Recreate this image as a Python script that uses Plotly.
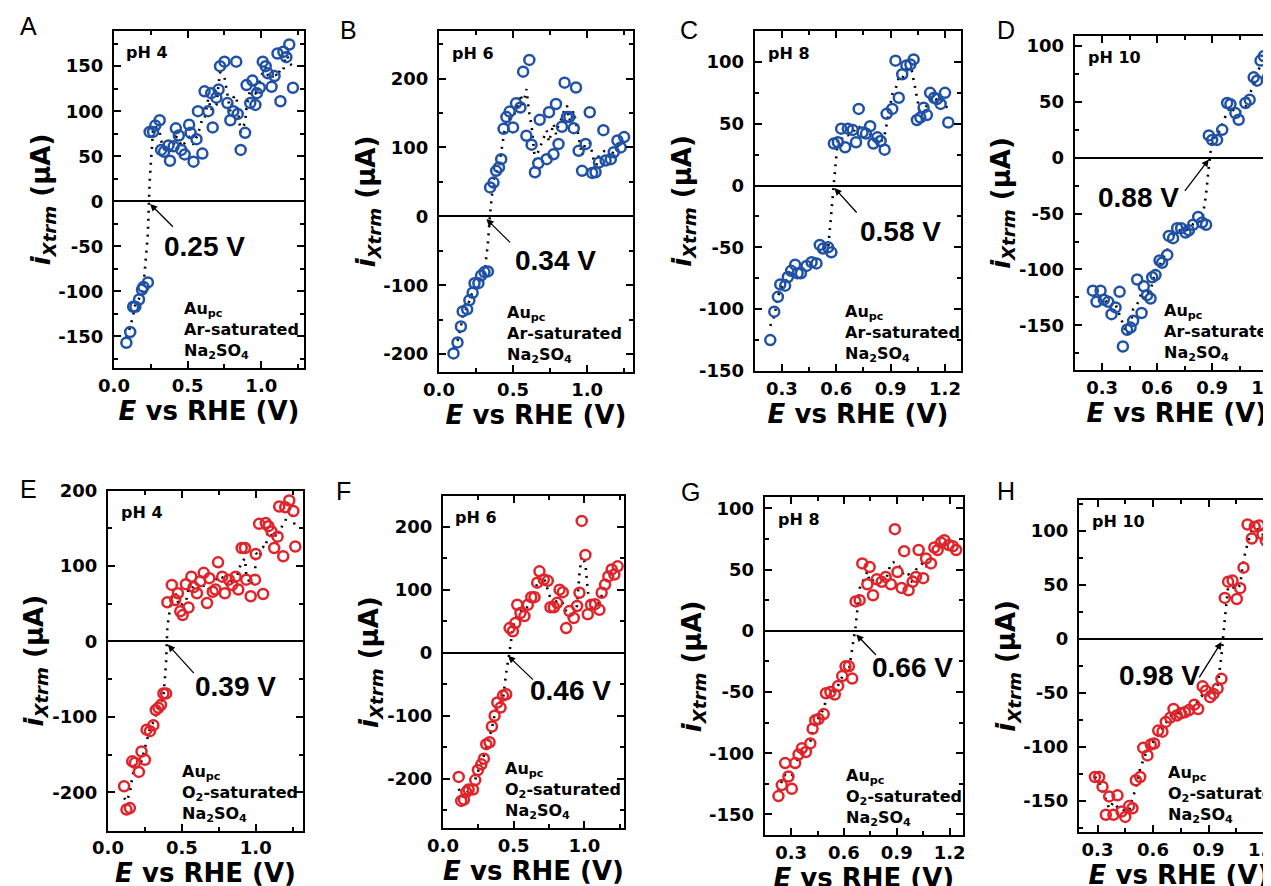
import numpy as np
import plotly.graph_objects as go

W, H = 1271, 886

# ---------------- data (E vs RHE in V, i_Xtrm in uA) ----------------
e_A = [0.084, 0.11, 0.13, 0.145, 0.17, 0.19, 0.20, 0.23,
       0.242, 0.265, 0.28, 0.31, 0.32, 0.34, 0.37, 0.38, 0.405, 0.42, 0.44, 0.457, 0.48,
       0.51, 0.52, 0.54, 0.56, 0.57, 0.60, 0.615, 0.64, 0.66, 0.67, 0.695, 0.71, 0.72,
       0.75, 0.77, 0.79, 0.81, 0.83, 0.84, 0.86, 0.89, 0.90, 0.925, 0.94, 0.96, 0.97,
       0.99, 1.01, 1.03, 1.045, 1.07, 1.09, 1.11, 1.13, 1.15, 1.17, 1.19, 1.215]
i_A = [-157, -145, -117, -117, -109, -98, -95, -90,
       77, 77, 84, 90, 57, 55, 62, 45, 61, 81, 73, 57, 52,
       85, 76, 44, 69, 100, 53, 122, 100, 120, 82, 115, 124, 150,
       155, 109, 90, 100, 155, 97, 57, 76, 129, 109, 134, 107, 120,
       126, 155, 150, 142, 127, 139, 164, 111, 166, 160, 174, 126]

e_B = [0.098, 0.125, 0.148, 0.16, 0.19, 0.205, 0.227, 0.24, 0.266, 0.284, 0.307, 0.33,
       0.345, 0.368, 0.386, 0.405, 0.42, 0.436, 0.455, 0.477, 0.50, 0.52, 0.55, 0.568,
       0.59, 0.61, 0.625, 0.648, 0.67, 0.68, 0.727, 0.743, 0.773, 0.79, 0.807, 0.83,
       0.848, 0.864, 0.88, 0.91, 0.925, 0.943, 0.966, 0.99, 1.018, 1.034, 1.057, 1.08,
       1.11, 1.125, 1.16, 1.18, 1.205, 1.227, 1.25]
i_B = [-199, -183, -160, -138, -135, -122, -111, -97, -97, -86, -81, -80,
       42, 49, 66, 71, 83, 127, 144, 152, 129, 164, 158, 210,
       117, 227, 104, 64, 77, 140, 83, 151, 90, 163, 105, 130,
       194, 144, 144, 128, 187, 95, 66, 105, 151, 63, 64, 78,
       125, 81, 83, 93, 110, 100, 115]

e_C = [0.236, 0.258, 0.278, 0.291, 0.318, 0.333, 0.351, 0.373, 0.387, 0.405, 0.436,
       0.464, 0.491, 0.509, 0.527, 0.555, 0.573,
       0.587, 0.609, 0.627, 0.649, 0.664, 0.691, 0.709, 0.724, 0.745, 0.764, 0.787,
       0.805, 0.827, 0.845, 0.867, 0.878, 0.909, 0.927, 0.945, 0.964, 0.987, 1.009,
       1.027, 1.045, 1.064, 1.082, 1.10, 1.118, 1.14, 1.155, 1.176, 1.20, 1.218]
i_C = [-125, -102, -90, -80, -81, -74, -69, -64, -71, -71, -65,
       -62, -63, -48, -51, -50, -54,
       34, 35, 46, 31, 46, 45, 35, 62, 43, 42, 48,
       34, 39, 36, 29, 58, 62, 101, 71, 90, 97, 98,
       102, 53, 55, 63, 57, 75, 71, 70, 66, 75, 51]

e_D = [0.249, 0.269, 0.291, 0.309, 0.333, 0.351, 0.373, 0.395, 0.413, 0.436, 0.455,
       0.469, 0.491, 0.515, 0.527, 0.545, 0.564, 0.573, 0.591, 0.613, 0.627, 0.655,
       0.664, 0.687, 0.709, 0.731, 0.755, 0.773, 0.796, 0.824, 0.845, 0.867,
       0.882, 0.90, 0.927, 0.955, 0.982, 1.0, 1.027, 1.045, 1.082, 1.105, 1.127,
       1.145, 1.164, 1.182, 1.205, 1.218, 1.236, 1.262]
i_D = [-119, -129, -119, -127, -129, -140, -134, -120, -169, -154, -152,
       -146, -109, -139, -115, -123, -126, -107, -105, -92, -94, -87,
       -70, -72, -63, -63, -67, -65, -60, -53, -58, -60,
       20, 16, 16, 25, 49, 48, 40, 34, 49, 52, 72,
       69, 87, 91, 72, 66, 73, 70]

e_E = [0.109, 0.125, 0.148, 0.164, 0.182, 0.209, 0.227, 0.25, 0.261, 0.284, 0.307,
       0.323, 0.341, 0.359, 0.375, 0.393,
       0.402, 0.432, 0.455, 0.473, 0.489, 0.505, 0.527, 0.545, 0.564, 0.58, 0.602,
       0.625, 0.648, 0.67, 0.686, 0.709, 0.727, 0.745, 0.773, 0.791, 0.818, 0.841,
       0.864, 0.882, 0.905, 0.927, 0.936, 0.966, 0.995, 1.0, 1.023, 1.05, 1.068,
       1.086, 1.107, 1.125, 1.148, 1.159, 1.186, 1.20, 1.227, 1.255, 1.268]
i_E = [-192, -223, -221, -159, -161, -173, -146, -157, -117, -119, -111,
       -91, -88, -84, -69, -69,
       52, 75, 55, 64, 40, 35, 76, 45, 86, 72, 64,
       80, 91, 51, 84, 66, 69, 105, 86, 64, 82, 75,
       86, 69, 124, 124, 82, 60, 82, 116, 156, 63, 157,
       153, 146, 124, 139, 179, 113, 178, 187, 173, 126]

e_F = [0.111, 0.129, 0.148, 0.165, 0.181, 0.212, 0.228, 0.247, 0.271, 0.289, 0.306,
       0.329, 0.346, 0.365, 0.384, 0.407, 0.424, 0.447,
       0.471, 0.494, 0.511, 0.525, 0.548, 0.576, 0.60, 0.624, 0.647, 0.666, 0.682,
       0.713, 0.741, 0.76, 0.784, 0.807, 0.824, 0.847, 0.871, 0.894, 0.925, 0.948,
       0.965, 0.981, 1.007, 1.024, 1.047, 1.075, 1.106, 1.122, 1.146, 1.169, 1.193,
       1.212, 1.235]
i_F = [-197, -235, -233, -221, -217, -217, -202, -186, -177, -168, -145,
       -142, -117, -100, -79, -87, -68, -66,
       39, 34, 47, 76, 63, 58, 76, 88, 88, 111, 129,
       116, 114, 72, 72, 79, 100, 96, 39, 66, 55, 74,
       95, 209, 155, 61, 76, 77, 68, 95, 108, 121, 132,
       124, 137]

e_G = [0.228, 0.247, 0.266, 0.285, 0.304, 0.323, 0.342, 0.361, 0.384, 0.409, 0.422,
       0.437, 0.456, 0.485, 0.498, 0.523, 0.548, 0.567, 0.59, 0.609, 0.628, 0.647,
       0.666, 0.689, 0.704, 0.733, 0.746, 0.765, 0.786, 0.814, 0.837, 0.866, 0.889,
       0.904, 0.927, 0.942, 0.967, 0.99, 1.009, 1.024, 1.05, 1.066, 1.094, 1.113,
       1.132, 1.151, 1.17, 1.195, 1.218, 1.237]
i_G = [-135, -126, -108, -119, -129, -108, -101, -96, -99, -92, -80,
       -73, -72, -68, -51, -50, -52, -45, -37, -29, -29, -39,
       24, 25, 55, 38, 52, 29, 42, 40, 44, 38, 83,
       48, 35, 65, 33, 40, 44, 66, 43, 59, 55, 68,
       66, 72, 74, 70, 69, 66]

e_H = [0.286, 0.309, 0.327, 0.345, 0.363, 0.386, 0.408, 0.43, 0.45, 0.471, 0.489,
       0.507, 0.531, 0.547, 0.57, 0.588, 0.606, 0.628, 0.651, 0.669, 0.693, 0.711,
       0.729, 0.75, 0.772, 0.795, 0.823, 0.844, 0.868, 0.886, 0.909, 0.927, 0.949,
       0.97,
       0.988, 1.006, 1.03, 1.053, 1.071, 1.089, 1.111, 1.134, 1.15, 1.173, 1.192,
       1.21, 1.228, 1.246, 1.268]
i_H = [-128, -128, -137, -163, -146, -163, -145, -160, -165, -155, -157,
       -131, -128, -101, -108, -98, -97, -85, -86, -77, -73, -65,
       -71, -69, -68, -66, -61, -65, -44, -48, -54, -51, -46,
       -37,
       38, 53, 54, 37, 47, 66, 106, 93, 104, 105, 97,
       91, 66, 105, 100]

letters = ["A", "B", "C", "D", "E", "F", "G", "H"]
ph_labels = ["pH 4", "pH 6", "pH 8", "pH 10", "pH 4", "pH 6", "pH 8", "pH 10"]
onset_labels = ["0.25 V", "0.34 V", "0.58 V", "0.88 V", "0.39 V", "0.46 V", "0.66 V", "0.98 V"]
gas_labels = ["Ar-saturated"] * 4 + ["O<sub>2</sub>-saturated"] * 4
E_data = [e_A, e_B, e_C, e_D, e_E, e_F, e_G, e_H]
I_data = [i_A, i_B, i_C, i_D, i_E, i_F, i_G, i_H]

BLUE = "#1f52a6"
RED = "#e0242a"
colors = [BLUE] * 4 + [RED] * 4

# ---------------- layout config (pixel frames etc.) ----------------
cfg = [
    dict(fr=(106, 296, 23, 360), xr=[0, 1.29], yr=[-185, 189], xd=0.5, x0=0, xm=0.25, yd=50, ym=25,
         tip=(0.245, -3), tail=(0.41, -30), lab=(0.615, -50), blk=0.36, let=(20, 18)),
    dict(fr=(431, 625, 23, 364), xr=[0, 1.31], yr=[-226, 269], xd=0.5, x0=0, xm=0.25, yd=100, ym=50,
         tip=(0.32, -4), tail=(0.49, -40), lab=(0.785, -64), blk=0.34, let=(340, 22)),
    dict(fr=(746.7, 953.3, 23, 363), xr=[0.15, 1.29], yr=[-150, 125], xd=0.3, x0=0.3, xm=0.15, yd=50, ym=25,
         tip=(0.59, -2), tail=(0.72, -23), lab=(0.955, -37), blk=0.425, let=(681, 22)),
    dict(fr=(1066.7, 1271, 28, 362), xr=[0.15, 1.265], yr=[-190, 109], xd=0.3, x0=0.3, xm=0.15, yd=50, ym=25,
         tip=(0.882, -1.5), tail=(0.745, -31), lab=(0.5, -36), blk=0.425, let=(998, 22)),
    dict(fr=(100, 295, 482.7, 822.7), xr=[0, 1.32], yr=[-251, 200], xd=0.5, x0=0, xm=0.25, yd=100, ym=50,
         tip=(0.405, -4), tail=(0.59, -44), lab=(0.865, -60), blk=0.37, let=(20, 481)),
    dict(fr=(435, 616, 488.3, 820), xr=[0, 1.28], yr=[-278, 248], xd=0.5, x0=0, xm=0.25, yd=100, ym=50,
         tip=(0.46, -5), tail=(0.647, -45), lab=(0.905, -60), blk=0.33, let=(335, 483)),
    dict(fr=(756.7, 955, 489.3, 827.3), xr=[0.15, 1.276], yr=[-167, 109], xd=0.3, x0=0.3, xm=0.15, yd=50, ym=25,
         tip=(0.67, -3), tail=(0.79, -21), lab=(0.99, -30), blk=0.40, let=(682, 484)),
    dict(fr=(1071, 1271, 491.7, 824), xr=[0.2, 1.281], yr=[-179, 129], xd=0.3, x0=0.3, xm=0.15, yd=50, ym=25,
         tip=(0.97, -3), tail=(0.845, -37), lab=(0.633, -34), blk=0.435, let=(998, 483)),
]

TICKFONT = dict(family="DejaVu Sans", size=18, color="black", weight="bold")
TITLEFONT = dict(family="DejaVu Sans", size=26, color="black")


def smooth(x, y, w=3):
    order = np.argsort(x)
    xs = np.asarray(x, float)[order]
    ys = np.asarray(y, float)[order]
    k = w // 2
    ym = np.array([ys[max(0, j - k):j + k + 1].mean() for j in range(len(ys))])
    return xs, ym


fig = go.Figure()
layout = dict(width=W, height=H, margin=dict(l=0, r=0, t=0, b=0),
              paper_bgcolor="white", plot_bgcolor="white", showlegend=False)
annotations = []

for n in range(8):
    c = cfg[n]
    sfx = "" if n == 0 else str(n + 1)
    xa, ya = "x" + sfx, "y" + sfx
    x0p, x1p, ytp, ybp = c["fr"]

    xs, ys = smooth(E_data[n], I_data[n])
    fig.add_trace(go.Scatter(x=xs, y=ys, mode="lines", xaxis=xa, yaxis=ya,
                             line=dict(color="black", width=2.6, dash="2px,6px"),
                             hoverinfo="skip"))
    fig.add_trace(go.Scatter(x=E_data[n], y=I_data[n], mode="markers", xaxis=xa, yaxis=ya,
                             marker=dict(symbol="circle-open", size=10, color=colors[n],
                                         line=dict(width=2.5, color=colors[n]))))

    yv = np.arange(np.ceil(c["yr"][0] / c["yd"]) * c["yd"], c["yr"][1] + 1e-9, c["yd"])
    yt = [str(int(v)) if v >= 0 else "-" + str(int(-v)) for v in yv]

    layout["xaxis" + sfx] = dict(
        domain=[x0p / W, x1p / W], range=c["xr"], anchor=ya,
        showline=True, linewidth=2, linecolor="black", mirror="ticks",
        ticks="inside", ticklen=7, tickwidth=2, tickcolor="black",
        tick0=c["x0"], dtick=c["xd"], tickformat=".1f",
        minor=dict(ticks="inside", ticklen=4, tickwidth=2, tickcolor="black",
                   tick0=0, dtick=c["xm"]),
        showgrid=False, zeroline=False, tickfont=TICKFONT, ticklabelstandoff=0,
        ticklabeloverflow="allow",
        title=dict(text="<b><i>E</i> vs RHE (V)</b>", font=TITLEFONT, standoff=0),
        automargin=False, fixedrange=True)
    layout["yaxis" + sfx] = dict(
        domain=[1 - ybp / H, 1 - ytp / H], range=c["yr"], anchor=xa,
        showline=True, linewidth=2, linecolor="black", mirror="ticks",
        ticks="inside", ticklen=7, tickwidth=2, tickcolor="black",
        tickmode="array", tickvals=list(yv), ticktext=yt,
        minor=dict(ticks="inside", ticklen=4, tickwidth=2, tickcolor="black",
                   tick0=0, dtick=c["ym"]),
        showgrid=False, zeroline=True, zerolinecolor="black", zerolinewidth=1.6,
        tickfont=TICKFONT, ticklabelstandoff=5, ticklabeloverflow="allow",
        title=dict(text="<b><i>i</i><sub><i>Xtrm</i></sub> (μA)</b>", font=TITLEFONT, standoff=0),
        automargin=False, fixedrange=True)

    annotations.append(dict(x=c["let"][0] / W, y=1 - c["let"][1] / H, xref="paper", yref="paper",
                            text=letters[n], showarrow=False, xanchor="center", yanchor="middle",
                            font=dict(family="Liberation Sans, Arial", size=25, color="black")))
    annotations.append(dict(x=0.055, y=0.935, xref=xa + " domain", yref=ya + " domain",
                            text="<b>" + ph_labels[n] + "</b>", showarrow=False,
                            xanchor="left", yanchor="middle",
                            font=dict(family="DejaVu Sans", size=16, color="black")))
    annotations.append(dict(x=c["blk"], y=0.012, xref=xa + " domain", yref=ya + " domain",
                            text="<b>Au<sub>pc</sub><br>" + gas_labels[n] +
                                 "<br>Na<sub>2</sub>SO<sub>4</sub></b>",
                            showarrow=False, xanchor="left", yanchor="bottom", align="left",
                            font=dict(family="DejaVu Sans", size=16, color="black")))
    annotations.append(dict(x=c["tip"][0], y=c["tip"][1], ax=c["tail"][0], ay=c["tail"][1],
                            xref=xa, yref=ya, axref=xa, ayref=ya, text="", showarrow=True,
                            arrowhead=2, arrowsize=1.1, arrowwidth=1.3, arrowcolor="black"))
    annotations.append(dict(x=c["lab"][0], y=c["lab"][1], xref=xa, yref=ya,
                            text="<b>" + onset_labels[n] + "</b>", showarrow=False,
                            xanchor="center", yanchor="middle",
                            font=dict(family="Liberation Sans, Arial", size=28, color="black")))

layout["annotations"] = annotations
fig.update_layout(**layout)
fig.write_html("out.html")
